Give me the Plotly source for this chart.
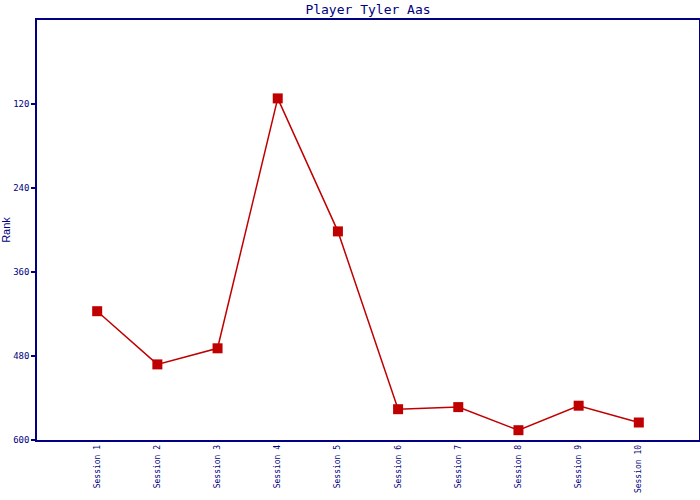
import plotly.graph_objects as go

sessions = ["Session 1", "Session 2", "Session 3", "Session 4", "Session 5",
            "Session 6", "Session 7", "Session 8", "Session 9", "Session 10"]
ranks = [416, 492, 469, 112, 302, 556, 553, 586, 551, 575]
y_ticks = [120, 240, 360, 480, 600]

navy = "#000080"
red = "#C00000"

fig = go.Figure()
fig.add_trace(go.Scatter(
    x=sessions, y=ranks, mode="lines+markers",
    line=dict(color=red, width=1.5),
    marker=dict(symbol="square", size=10, color=red),
    showlegend=False,
))

fig.update_layout(
    width=700, height=500,
    margin=dict(l=37, r=1, t=20, b=60, pad=0),
    paper_bgcolor="white", plot_bgcolor="white",
    title=dict(text="Player Tyler Aas", x=(37 + 699) / 2 / 700, xanchor="center",
               y=1 - 9 / 500, yanchor="middle",
               font=dict(family="DejaVu Sans Mono", size=13, color=navy)),
    xaxis=dict(type="category", range=[-1, 10], showgrid=False, zeroline=False,
               showline=True, linecolor=navy, linewidth=1.5, mirror=True,
               ticks="", tickangle=-90, automargin=False,
               tickfont=dict(family="DejaVu Sans Mono", size=8, color=navy)),
    yaxis=dict(range=[600, 0], tickvals=y_ticks, showgrid=False, zeroline=False,
               showline=True, linecolor=navy, linewidth=1.5, mirror=True,
               ticks="outside", ticklen=4, tickcolor=navy, tickwidth=1.5,
               automargin=False,
               tickfont=dict(family="DejaVu Sans Mono", size=9, color=navy),
               title=dict(text="Rank", standoff=1,
                          font=dict(family="Liberation Sans", size=11, color=navy))),
)

fig.write_html("out.html", config={"responsive": False, "displayModeBar": False},
               post_script="document.body.style.margin='0px';document.body.style.overflow='hidden';")
